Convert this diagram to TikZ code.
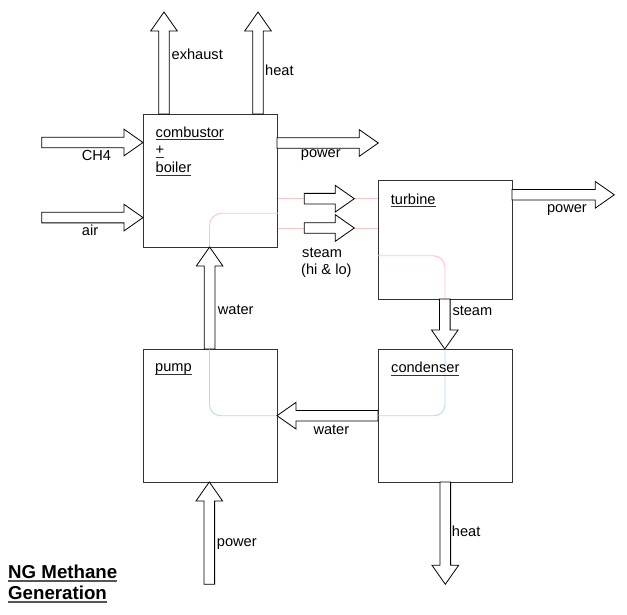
\documentclass[tikz,border=0pt]{standalone}
\usepackage{fontspec}
\setmainfont{Liberation Sans}
\usetikzlibrary{calc}
\definecolor{ulcol}{HTML}{333333}
\definecolor{boxcol}{HTML}{333333}
\definecolor{titleul}{HTML}{555555}
\definecolor{pinkline}{HTML}{FFC4C4}
\definecolor{blueline}{HTML}{B4DAF2}
\newcommand\ulx[1]{\setbox0\hbox{#1}\rlap{\color{ulcol}\rule[-2.8pt]{\wd0}{0.8pt}}\box0}
\newcommand\ultitle[1]{\setbox0\hbox{#1}\rlap{\color{titleul}\rule[-3.2pt]{\wd0}{1.3pt}}\box0}
\tikzset{
  box/.style={draw=boxcol, line width=0.8pt, fill=white, minimum width=134pt, minimum height=133pt, anchor=north west, inner sep=0pt},
  lbl/.style={anchor=base west, inner sep=0pt, font=\fontsize{14.6}{17.5}\selectfont},
  ttl/.style={anchor=base west, inner sep=0pt, font=\fontsize{18.7}{21}\selectfont\bfseries},
  blockarrow/.style={draw=black, fill=white, line width=0.8pt, line join=miter,
    to path={let \p3=($(\tikztotarget)!19pt!(\tikztostart)$) in
      ($(\tikztostart)!5.3pt!90:(\tikztotarget)$) -- ($(\p3)!5.3pt!90:(\tikztotarget)$) --
      ($(\p3)!13.3pt!90:(\tikztotarget)$) -- (\tikztotarget) --
      ($(\p3)!13.3pt!-90:(\tikztotarget)$) -- ($(\p3)!5.3pt!-90:(\tikztotarget)$) --
      ($(\tikztostart)!5.3pt!-90:(\tikztotarget)$) -- cycle}},
  pinkflow/.style={draw=pinkline, line width=0.9pt, rounded corners=12pt},
  blueflow/.style={draw=blueline, line width=0.9pt, rounded corners=11pt}
}
\begin{document}
\begin{tikzpicture}[x=1pt,y=1pt]
\useasboundingbox (0,0) rectangle (627,-615);
% boxes
\node[box] (comb) at (143,-114) {};
\node[box, minimum height=119pt] (turb) at (378,-180) {};
\node[box] (pump) at (143,-349) {};
\node[box] (cond) at (378,-349) {};
% colored flow lines
\draw[pinkflow] (comb.east |- 0,-198.7) -- (turb.west |- 0,-198.7);
\draw[pinkflow] (comb.east |- 0,-228) -- (turb.west |- 0,-228);
\draw[pinkflow] (comb.east |- 0,-213.3) -- (209.5,-213.3) -- (209.5,-247);
\draw[pinkflow] (turb.west |- 0,-255.7) -- (445,-255.7) -- (445,-299);
\draw[blueflow] (209.5,-349) -- (209.5,-415.7) -- (pump.east |- 0,-415.7);
\draw[blueflow] (cond.west |- 0,-415.7) -- (445,-415.7) -- (445,-349);
% arrow end points
\coordinate (exA) at (164,-114);   \coordinate (exB) at (164,-12);
\coordinate (htA) at (258,-114);   \coordinate (htB) at (258,-12);
\coordinate (chA) at (41.7,-142.5); \coordinate (chB) at (143,-142.5);
\coordinate (arA) at (41.7,-217.6); \coordinate (arB) at (143,-217.6);
\coordinate (p1A) at (277,-143);   \coordinate (p1B) at (378.3,-143);
\coordinate (s1A) at (304.3,-198.7); \coordinate (s1B) at (354.3,-198.7);
\coordinate (s2A) at (304.3,-228); \coordinate (s2B) at (354.3,-228);
\coordinate (p2A) at (512,-194.8); \coordinate (p2B) at (614.3,-194.8);
\coordinate (sdA) at (444.8,-299); \coordinate (sdB) at (444.8,-349);
\coordinate (wlA) at (378,-415.7); \coordinate (wlB) at (277,-415.7);
\coordinate (wuA) at (209.6,-349); \coordinate (wuB) at (209.6,-247);
\coordinate (hdA) at (445.3,-482); \coordinate (hdB) at (445.3,-584.3);
\coordinate (puA) at (209.3,-584.3); \coordinate (puB) at (209.3,-482);
% block arrows
\draw[blockarrow] (exA) to (exB);
\draw[blockarrow] (htA) to (htB);
\draw[blockarrow] (chA) to (chB);
\draw[blockarrow] (arA) to (arB);
\draw[blockarrow] (p1A) to (p1B);
\draw[blockarrow] (s1A) to (s1B);
\draw[blockarrow] (s2A) to (s2B);
\draw[blockarrow] (p2A) to (p2B);
\draw[blockarrow] (sdA) to (sdB);
\draw[blockarrow] (wlA) to (wlB);
\draw[blockarrow] (wuA) to (wuB);
\draw[blockarrow] (hdA) to (hdB);
\draw[blockarrow] (puA) to (puB);
% labels
\node[lbl] (lexh) at (171.5,-60) {exhaust};
\node[lbl] (lht1) at (265,-76) {heat};
\node[lbl] (lcb1) at (155.5,-137.5) {\ulx{combustor}};
\node[lbl] (lcb2) at (155.5,-154.8) {\ulx{+}};
\node[lbl] (lcb3) at (155.5,-172.6) {\ulx{boiler}};
\node[lbl] (lch4) at (81.7,-160.7) {CH4};
\node[lbl] (lair) at (81.7,-236) {air};
\node[lbl] (lpw1) at (300.7,-158) {power};
\node[lbl] (lst1) at (302,-257.3) {steam};
\node[lbl] (lst2) at (301,-274.8) {(hi \& lo)};
\node[lbl] (ltur) at (390.7,-204.2) {\ulx{turbine}};
\node[lbl, anchor=base east] (lpw2) at (587,-212) {power};
\node[lbl] (lst3) at (452.3,-315) {steam};
\node[lbl] (lwt1) at (217.7,-314) {water};
\node[lbl] (lpmp) at (155,-371.5) {\ulx{pump}};
\node[lbl] (lcnd) at (391,-372.8) {\ulx{condenser}};
\node[lbl] (lwt2) at (313.3,-434) {water};
\node[lbl] (lht2) at (451.7,-536) {heat};
\node[lbl] (lpw3) at (216.7,-546) {power};
\node[ttl] (tt1) at (8,-578.3) {\ultitle{NG Methane}};
\node[ttl] (tt2) at (8,-599.3) {\ultitle{Generation}};
\end{tikzpicture}
\end{document}
